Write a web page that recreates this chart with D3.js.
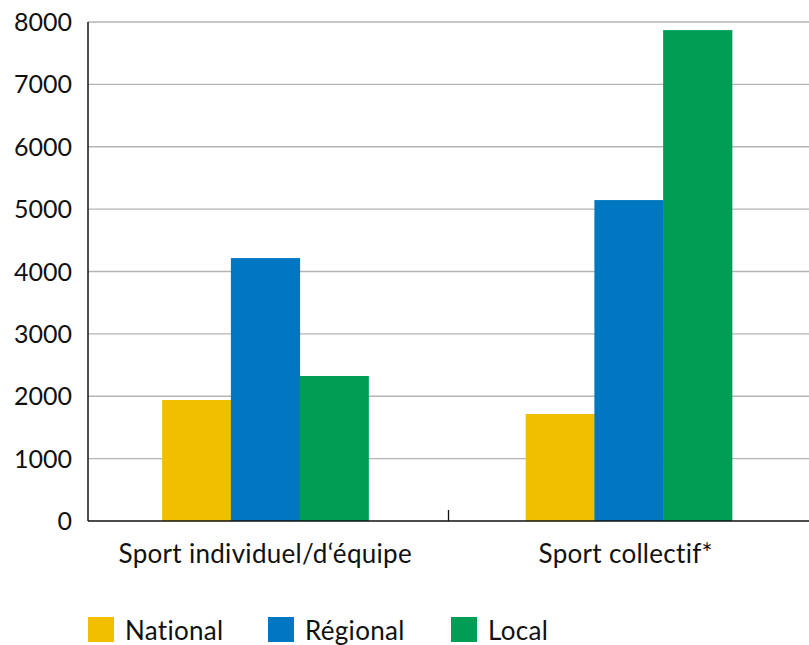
<!DOCTYPE html>
<html>
<head>
<meta charset="utf-8">
<script src="https://cdn.jsdelivr.net/npm/d3@7"></script>
<style>
  body { margin: 0; background: #fff; }
  svg text { font-family: Lato, "Open Sans", sans-serif; fill: #111; }
</style>
</head>
<body>
<div id="chart"></div>
<script>
// data
var categories = ['Sport individuel/d\u2018\u00e9quipe', 'Sport collectif*'];
var seriesNames = ['National', 'R\u00e9gional', 'Local'];
var national = [1940, 1715];
var regional = [4215, 5145];
var local = [2325, 7870];
var yTicks = [0, 1000, 2000, 3000, 4000, 5000, 6000, 7000, 8000];

var colors = ['#f2be00', '#0077c0', '#009e55'];
var seriesValues = [national, regional, local];

var width = 809, height = 645;
var margin = {top: 22, right: 0, bottom: 124, left: 88};
var innerW = width - margin.left - margin.right;
var innerH = height - margin.top - margin.bottom;

var svg = d3.select('#chart').append('svg')
  .attr('width', width)
  .attr('height', height);

var g = svg.append('g')
  .attr('transform', 'translate(' + margin.left + ',' + margin.top + ')');

var x0 = d3.scaleBand().domain(categories).range([0, innerW]).paddingInner(0).paddingOuter(0);
var x1 = d3.scaleBand().domain(seriesNames).range([0, x0.bandwidth() * 0.572]);
var y = d3.scaleLinear().domain([0, 8000]).range([innerH, 0]);

// gridlines
g.selectAll('line.grid')
  .data(yTicks.slice(1))
  .enter().append('line')
  .attr('class', 'grid')
  .attr('x1', 0)
  .attr('x2', innerW)
  .attr('y1', function(d) { return y(d); })
  .attr('y2', function(d) { return y(d); })
  .attr('stroke', '#b4b4b4')
  .attr('stroke-width', 1.3);

// bars (first group sits a touch left of its band centre)
var groupShift = [-3, 0];
var groups = g.selectAll('g.group')
  .data(categories)
  .enter().append('g')
  .attr('class', 'group')
  .attr('transform', function(d, i) {
    return 'translate(' + (x0(d) + (x0.bandwidth() - x1.range()[1]) / 2 + groupShift[i]) + ',0)';
  });

groups.selectAll('rect')
  .data(function(d, i) {
    return seriesNames.map(function(s, j) { return {s: s, v: seriesValues[j][i], c: colors[j]}; });
  })
  .enter().append('rect')
  .attr('x', function(d) { return x1(d.s); })
  .attr('width', x1.bandwidth() + 0.5)
  .attr('y', function(d) { return y(d.v); })
  .attr('height', function(d) { return innerH - y(d.v); })
  .attr('fill', function(d) { return d.c; });

// y axis
g.append('line')
  .attr('x1', 0).attr('x2', 0)
  .attr('y1', 0).attr('y2', innerH)
  .attr('stroke', '#111').attr('stroke-width', 1.5);

g.selectAll('text.ylab')
  .data(yTicks)
  .enter().append('text')
  .attr('class', 'ylab')
  .attr('x', -16)
  .attr('y', function(d) { return y(d); })
  .attr('dy', '0.36em')
  .attr('text-anchor', 'end')
  .style('font-size', '25px')
  .text(function(d) { return d; });

// x axis
g.append('line')
  .attr('x1', 0).attr('x2', innerW)
  .attr('y1', innerH).attr('y2', innerH)
  .attr('stroke', '#111').attr('stroke-width', 1.5);

// tick between categories
g.append('line')
  .attr('x1', x0(categories[1])).attr('x2', x0(categories[1]))
  .attr('y1', innerH).attr('y2', innerH - 11)
  .attr('stroke', '#111').attr('stroke-width', 1.3);

g.selectAll('text.xlab')
  .data(categories)
  .enter().append('text')
  .attr('class', 'xlab')
  .attr('x', function(d) { return x0(d) + x0.bandwidth() / 2 - 3; })
  .attr('y', innerH + 42)
  .attr('text-anchor', 'middle')
  .style('font-size', '26px')
  .style('letter-spacing', '0.3px')
  .text(function(d) { return d; });

// legend
var legendX = [88, 268, 451];
var legend = svg.selectAll('g.legend')
  .data(seriesNames)
  .enter().append('g')
  .attr('class', 'legend')
  .attr('transform', function(d, i) { return 'translate(' + legendX[i] + ',617)'; });

legend.append('rect')
  .attr('width', 26).attr('height', 25)
  .attr('fill', function(d, i) { return colors[i]; });

legend.append('text')
  .attr('x', 37)
  .attr('y', 23)
  .style('font-size', '26px')
  .style('letter-spacing', '0.3px')
  .text(function(d) { return d; });
</script>
</body>
</html>
